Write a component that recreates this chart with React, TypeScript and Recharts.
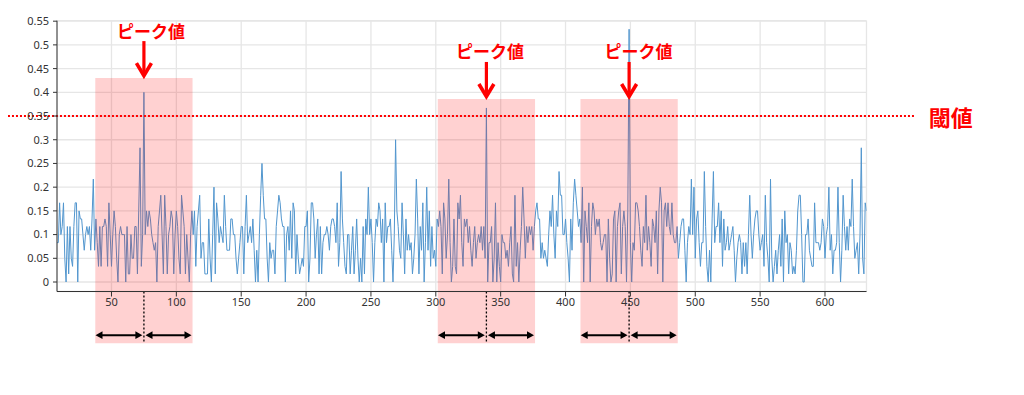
import React from "react";
import {
  CartesianGrid,
  Line,
  LineChart,
  ReferenceArea,
  ReferenceDot,
  ReferenceLine,
  XAxis,
  YAxis,
} from "recharts";

// signal samples, one per x step starting at X_START
const X_START = 8;
const X_END = 632;

// prettier-ignore
const VALUES = [
  0.083, 0.083, // 8
  0.167, 0.1, 0.117, 0.167, 0.05, 0, 0.117, 0.017, 0.117, 0.05, // 10
  0.033, 0.117, 0.167, 0.167, 0, 0.15, 0.133, 0.133, 0.1, 0.067, // 20
  0.1, 0.117, 0.1, 0.117, 0.067, 0.133, 0.217, 0.067, 0.133, 0.083, // 30
  0.033, 0.117, 0.033, 0.117, 0.117, 0.133, 0.117, 0.033, 0.167, 0.1, // 40
  0.033, 0.1, 0.15, 0.117, 0.05, 0, 0.1, 0.117, 0.1, 0.1, // 50
  0.1, 0, 0.117, 0.017, 0.017, 0.1, 0.05, 0.05, 0.117, 0.117, // 60
  0.017, 0.15, 0.283, 0.033, 0.1, 0.4, 0.1, 0.15, 0.117, 0.15, // 70
  0.133, 0.1, 0.083, 0.067, 0.083, 0, 0.117, 0.15, 0.183, 0.1, // 80
  0.017, 0.183, 0.117, 0.017, 0.1, 0.117, 0.15, 0.133, 0.017, 0.1, // 90
  0.15, 0.117, 0.05, 0.017, 0.183, 0.15, 0.117, 0.017, 0.1, 0.05, // 100
  0, 0.1, 0.15, 0.1, 0.15, 0.033, 0.117, 0.15, 0.183, 0.05, // 110
  0.083, 0.083, 0.017, 0.017, 0.017, 0.133, 0.05, 0, 0.1, 0.2, // 120
  0.017, 0.167, 0.133, 0.083, 0.117, 0.1, 0.083, 0.183, 0.117, 0.067, // 130
  0.067, 0.067, 0.133, 0.133, 0.1, 0.1, 0.05, 0.017, 0.05, 0.083, // 140
  0.117, 0.117, 0.017, 0.117, 0.183, 0.083, 0.1, 0.117, 0.083, 0.133, // 150
  0.067, 0, 0.067, 0, 0.1, 0.183, 0.25, 0.183, 0.133, 0.133, // 160
  0.05, 0, 0.083, 0.05, 0.067, 0.067, 0.017, 0.117, 0.15, 0.183, // 170
  0.167, 0.133, 0.117, 0.117, 0, 0.1, 0.117, 0.067, 0.15, 0.05, // 180
  0.167, 0.15, 0.017, 0.1, 0.05, 0.017, 0.033, 0.05, 0.033, 0.117, // 190
  0.117, 0.15, 0, 0.05, 0.167, 0.167, 0.133, 0.05, 0.1, 0.133, // 200
  0.017, 0.117, 0.017, 0.083, 0.1, 0.1, 0.117, 0.1, 0.067, 0.117, // 210
  0.133, 0.133, 0.117, 0.083, 0.167, 0.033, 0.083, 0.233, 0.133, 0.083, // 220
  0.033, 0.017, 0.1, 0.1, 0.017, 0.067, 0.117, 0.017, 0.067, 0.133, // 230
  0.05, 0, 0.05, 0, 0.117, 0.017, 0.133, 0.1, 0.2, 0.1, // 240
  0.133, 0.083, 0, 0.083, 0.133, 0.117, 0.167, 0.15, 0.083, 0.133, // 250
  0, 0.167, 0.083, 0.117, 0.117, 0.133, 0.067, 0, 0.1, 0.3, // 260
  0.15, 0.117, 0.067, 0.05, 0.167, 0.1, 0.017, 0.133, 0.067, 0.1, // 270
  0.067, 0.083, 0.017, 0.05, 0.1, 0.217, 0.133, 0.017, 0.117, 0.067, // 280
  0.167, 0, 0.083, 0.2, 0.067, 0.15, 0.033, 0.117, 0.05, 0.067, // 290
  0.033, 0.133, 0.117, 0.15, 0.117, 0.017, 0.167, 0.133, 0.05, 0.1, // 300
  0.217, 0.083, 0, 0.033, 0.133, 0.033, 0.017, 0.167, 0.133, 0.183, // 310
  0.083, 0.033, 0.133, 0.117, 0.133, 0.083, 0.117, 0.067, 0.033, 0.083, // 320
  0.117, 0.05, 0.083, 0.1, 0.083, 0.117, 0.067, 0.117, 0.05, 0.367, // 330
  0, 0.083, 0.083, 0.117, 0, 0.05, 0.167, 0, 0.083, 0.033, // 340
  0, 0.1, 0.083, 0.083, 0.05, 0.067, 0.033, 0.083, 0.117, 0.017, // 350
  0, 0.183, 0.033, 0.083, 0, 0.067, 0.117, 0.2, 0.133, 0.05, // 360
  0.117, 0.083, 0.117, 0.1, 0.117, 0.067, 0.117, 0.15, 0.167, 0.133, // 370
  0.133, 0.05, 0.083, 0.05, 0.067, 0.05, 0.033, 0.1, 0.15, 0.117, // 380
  0.183, 0.1, 0.05, 0.15, 0.117, 0.233, 0.183, 0.183, 0.1, 0.1, // 390
  0.133, 0.083, 0.05, 0, 0.133, 0.067, 0.167, 0.217, 0.183, 0.15, // 400
  0.117, 0.133, 0.083, 0.2, 0, 0.15, 0.117, 0.083, 0.167, 0, // 410
  0.117, 0.167, 0.15, 0.1, 0.133, 0.117, 0.133, 0.083, 0.067, 0.083, // 420
  0.1, 0.1, 0, 0.133, 0.05, 0, 0.017, 0.133, 0.15, 0, // 430
  0.117, 0.15, 0.167, 0.017, 0.117, 0.15, 0.117, 0, 0.15, 0.533, // 440
  0.083, 0, 0.083, 0.067, 0.167, 0.167, 0.15, 0.117, 0.067, 0.033, // 450
  0.117, 0.083, 0.183, 0.067, 0.117, 0.083, 0.033, 0.133, 0.117, 0.083, // 460
  0.15, 0.017, 0.15, 0.2, 0.167, 0, 0.15, 0.167, 0.117, 0.167, // 470
  0.117, 0.1, 0.167, 0.1, 0.083, 0.083, 0.117, 0.05, 0.083, 0.117, // 480
  0.133, 0.133, 0.067, 0, 0.083, 0.117, 0.1, 0.217, 0.1, 0.2, // 490
  0.05, 0.133, 0.15, 0.083, 0.033, 0.083, 0.083, 0.233, 0.117, 0.033, // 500
  0, 0.067, 0, 0.133, 0.233, 0.083, 0.117, 0.117, 0.167, 0.083, // 510
  0.15, 0.033, 0.133, 0.067, 0.083, 0.117, 0.067, 0.083, 0.1, 0.117, // 520
  0.067, 0, 0.05, 0.083, 0.1, 0.083, 0.017, 0.083, 0.033, 0.083, // 530
  0.017, 0.1, 0.183, 0.1, 0.05, 0.1, 0.133, 0.15, 0.15, 0.1, // 540
  0.067, 0.083, 0.1, 0.033, 0.183, 0.083, 0.05, 0, 0.217, 0.05, // 550
  0, 0.033, 0.067, 0.017, 0.067, 0.1, 0.033, 0.133, 0, 0.15, // 560
  0.083, 0.1, 0.017, 0.083, 0.067, 0.017, 0.033, 0.017, 0.067, 0.15, // 570
  0.183, 0.183, 0.1, 0, 0, 0.1, 0.1, 0.133, 0.067, 0.05, // 580
  0.033, 0.033, 0.167, 0.083, 0.083, 0.083, 0.067, 0.083, 0.133, 0.117, // 590
  0.05, 0.1, 0.117, 0.2, 0.067, 0.1, 0.017, 0.067, 0.067, 0.083, // 600
  0.2, 0.083, 0, 0.067, 0.183, 0.117, 0.067, 0.117, 0.067, 0.133, // 610
  0.117, 0.217, 0.117, 0.05, 0.067, 0.083, 0.017, 0.1, 0.283, 0.05, // 620
  0.017, 0.167, 0.15, // 630
];

const X_TICKS = [50, 100, 150, 200, 250, 300, 350, 400, 450, 500, 550, 600];
const Y_TICKS = [0, 0.05, 0.1, 0.15, 0.2, 0.25, 0.3, 0.35, 0.4, 0.45, 0.5, 0.55];
const Y_DOMAIN: [number, number] = [-0.02, 0.551];

// minor ruler ticks: every 10 on x, every 0.01 on y
const X_MINOR_TICKS = Array.from({ length: 63 }, (_, i) => (i + 1) * 10);
const Y_MINOR_TICKS = Array.from({ length: 58 }, (_, i) => (i - 2) / 100);

// annotations
const THRESHOLD = 0.35;
const THRESHOLD_SPAN = [-29.8, 670];
const THRESHOLD_LABEL_X = 697;

const PEAK_X = [75, 339, 449];
const PEAK_LABEL_X = [80.5, 341.8, 456.2];
const PEAK_LABEL_Y = [0.53, 0.489, 0.489];
const ARROW_TOP = [0.508, 0.464, 0.464];
const ARROW_TIP = [0.432, 0.388, 0.388];
const WINDOW_HALF = 37.5;
const WINDOW_TOP = [0.43, 0.386, 0.386];
const WINDOW_BOTTOM = -0.129;
const SPAN_ARROW_Y = -0.112;

const SANS = "'Noto Sans', 'Open Sans', sans-serif";
const CJK = "'Noto Sans CJK JP', 'Noto Sans CJK SC', sans-serif";
const RED = "#ff0000";

const rows = VALUES.map((y, i) => ({ x: X_START + i, y }));

const DownArrow = (p: any) => {
  const { x1, y1, y2 } = p;
  return (
    <g>
      <line x1={x1} y1={y1} x2={x1} y2={y2 - 3} stroke={RED} strokeWidth={3.2} />
      <polyline
        points={`${x1 - 7.5},${y2 - 14} ${x1},${y2 - 1.5} ${x1 + 7.5},${y2 - 14}`}
        fill="none"
        stroke={RED}
        strokeWidth={3.6}
      />
    </g>
  );
};

const DoubleArrow = (p: any) => {
  const { x1, y1, x2, y2 } = p;
  const len = 7;
  const w = 3.8;
  return (
    <g>
      <line x1={x1 + 3} y1={y1} x2={x2 - 3} y2={y2} stroke="#000" strokeWidth={2} />
      <polygon points={`${x1},${y1} ${x1 + len},${y1 - w} ${x1 + len},${y1 + w}`} fill="#000" />
      <polygon points={`${x2},${y2} ${x2 - len},${y2 - w} ${x2 - len},${y2 + w}`} fill="#000" />
    </g>
  );
};

const PeakLabel = (p: any) => (
  <text
    x={p.cx}
    y={p.cy}
    textAnchor="middle"
    dominantBaseline="central"
    fill={RED}
    fontSize={17}
    fontWeight={700}
    fontFamily={CJK}
  >
    ピーク値
  </text>
);

const ThresholdLabel = (p: any) => (
  <text
    x={p.cx}
    y={p.cy}
    textAnchor="middle"
    dominantBaseline="central"
    fill={RED}
    fontSize={22}
    fontWeight={700}
    fontFamily={CJK}
  >
    閾値
  </text>
);

export default function App() {
  const tickStyle = { fontSize: 11, fill: "#333", fontFamily: SANS };
  return (
    <div style={{ width: 1008, height: 379 }}>
      <LineChart
        width={1008}
        height={379}
        data={rows}
        margin={{ top: 12.7, right: 149.5, bottom: 65.5, left: 0 }}
      >
        <CartesianGrid stroke="#e6e6e6" strokeWidth={1.3} />

        <XAxis
          xAxisId="minor"
          type="number"
          dataKey="x"
          domain={[X_START, X_END]}
          allowDataOverflow
          ticks={X_MINOR_TICKS}
          interval={0}
          tick={false}
          tickSize={3}
          tickLine={{ stroke: "#333" }}
          axisLine={false}
          height={0}
        />
        <XAxis
          type="number"
          dataKey="x"
          domain={[X_START, X_END]}
          allowDataOverflow
          ticks={X_TICKS}
          interval={0}
          tickSize={5}
          tickLine={{ stroke: "#333" }}
          axisLine={{ stroke: "#333" }}
          tick={tickStyle}
          height={30}
        />
        <XAxis
          xAxisId="top"
          orientation="top"
          type="number"
          domain={[X_START, X_END]}
          allowDataOverflow
          tick={false}
          tickLine={false}
          axisLine={{ stroke: "#555" }}
          height={0}
        />

        <YAxis
          yAxisId="minor"
          type="number"
          domain={Y_DOMAIN}
          allowDataOverflow
          ticks={Y_MINOR_TICKS}
          interval={0}
          tick={false}
          tickSize={2.5}
          tickLine={{ stroke: "#333" }}
          axisLine={false}
          width={0}
        />
        <YAxis
          type="number"
          domain={Y_DOMAIN}
          allowDataOverflow
          ticks={Y_TICKS}
          interval={0}
          tickSize={4}
          tickMargin={4}
          tickLine={{ stroke: "#333" }}
          axisLine={{ stroke: "#333" }}
          tick={tickStyle}
          width={49}
        />
        <YAxis
          yAxisId="right"
          orientation="right"
          type="number"
          domain={Y_DOMAIN}
          allowDataOverflow
          tick={false}
          tickLine={false}
          axisLine={{ stroke: "#333" }}
          width={0}
        />

        <Line
          dataKey="y"
          type="linear"
          stroke="#5296ce"
          strokeWidth={1}
          dot={false}
          activeDot={false}
          isAnimationActive={false}
        />

        {PEAK_X.map((px, i) => (
          <ReferenceArea
            key={`win-${i}`}
            x1={px - WINDOW_HALF}
            x2={px + WINDOW_HALF}
            y1={WINDOW_BOTTOM}
            y2={WINDOW_TOP[i]}
            fill={RED}
            fillOpacity={0.18}
            stroke="none"
            ifOverflow="visible"
            zIndex={450}
          />
        ))}

        <ReferenceLine
          segment={[
            { x: THRESHOLD_SPAN[0], y: THRESHOLD },
            { x: THRESHOLD_SPAN[1], y: THRESHOLD },
          ]}
          stroke={RED}
          strokeWidth={2}
          strokeDasharray="2 2"
          ifOverflow="visible"
          zIndex={460}
        />
        <ReferenceDot
          x={THRESHOLD_LABEL_X}
          y={THRESHOLD}
          r={0}
          shape={ThresholdLabel}
          ifOverflow="visible"
          zIndex={480}
        />

        {PEAK_X.map((px, i) => (
          <React.Fragment key={`peak-${i}`}>
            <ReferenceLine
              segment={[
                { x: px, y: ARROW_TOP[i] },
                { x: px, y: ARROW_TIP[i] },
              ]}
              shape={DownArrow}
              ifOverflow="visible"
              zIndex={470}
            />
            <ReferenceDot
              x={PEAK_LABEL_X[i]}
              y={PEAK_LABEL_Y[i]}
              r={0}
              shape={PeakLabel}
              ifOverflow="visible"
              zIndex={480}
            />
            <ReferenceLine
              segment={[
                { x: px, y: Y_DOMAIN[0] },
                { x: px, y: WINDOW_BOTTOM },
              ]}
              stroke="#000"
              strokeWidth={1.3}
              strokeDasharray="2 2"
              ifOverflow="visible"
              zIndex={470}
            />
            <ReferenceLine
              segment={[
                { x: px - WINDOW_HALF + 0.2, y: SPAN_ARROW_Y },
                { x: px - 1.2, y: SPAN_ARROW_Y },
              ]}
              shape={DoubleArrow}
              ifOverflow="visible"
              zIndex={470}
            />
            <ReferenceLine
              segment={[
                { x: px + 1.2, y: SPAN_ARROW_Y },
                { x: px + WINDOW_HALF - 0.8, y: SPAN_ARROW_Y },
              ]}
              shape={DoubleArrow}
              ifOverflow="visible"
              zIndex={470}
            />
          </React.Fragment>
        ))}
      </LineChart>
    </div>
  );
}
